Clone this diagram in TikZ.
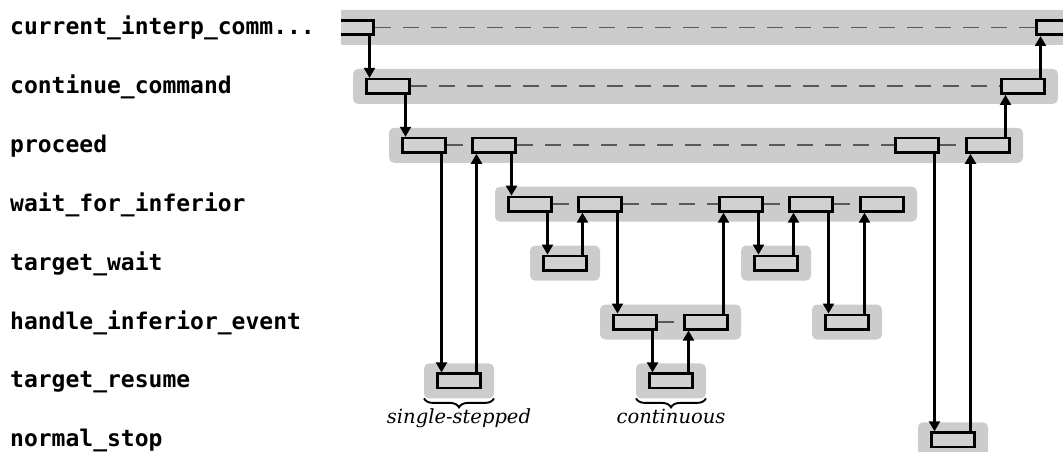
\documentclass[tikz,border=0pt]{standalone}
\usepackage{fontspec}
\setmonofont{DejaVu Sans Mono}
\newfontfamily\notefont{DejaVu Serif}
\usetikzlibrary{arrows.meta,fit,backgrounds,decorations.pathreplacing,positioning}

\tikzset{
	fn/.style={anchor=base west, inner sep=0pt, font=\ttfamily\bfseries\fontsize{23}{23}\selectfont},
	callbox/.style={draw, fill=black!18, line width=2.6pt, minimum width=43.4pt, minimum height=14.4pt, inner sep=0pt, anchor=west},
	stack/.style={fill=black!20, rounded corners=5pt, inner xsep=12pt, inner ysep=9pt, outer sep=0pt},
	timeline/.style={draw=black!65, line width=1.8pt, dash pattern=on 15.5pt off 12.5pt},
	callarrow/.style={line width=2.2pt, -{Triangle[width=11pt,length=10pt]}},
	groupbrace/.style={decorate, decoration={brace, mirror, amplitude=9pt}, line width=1.9pt},
	note/.style={anchor=base, inner sep=0pt, font=\notefont\itshape\fontsize{19.5}{19.5}\selectfont}
}

\begin{document}
\begin{tikzpicture}[x=1pt, y=-1pt]
	\useasboundingbox (0,0) rectangle (1063,452);
	
	% function names
	\node[fn] (lcic) at (10,35) {current\_interp\_comm...};
	\node[fn] (lcc) at (10,93.8) {continue\_command};
	\node[fn] (lpr) at (10,152.6) {proceed};
	\node[fn] (lwfi) at (10,211.4) {wait\_for\_inferior};
	\node[fn] (ltw) at (10,270.2) {target\_wait};
	\node[fn] (lhie) at (10,329) {handle\_inferior\_event};
	\node[fn] (ltr) at (10,387.8) {target\_resume};
	\node[fn] (lns) at (10,446.6) {normal\_stop};
	
	\begin{scope}
	\clip (341,0) rectangle (1063,452);
	
	% calls
	\node[callbox] (cic1) at (329,27.5) {};
	\node[callbox] (cic2) at (1035,27.5) {};
	
	\node[callbox] (cc1) at (365,86.4) {};
	\node[callbox] (cc2) at (1000,86.4) {};
	
	\node[callbox] (pr1) at (401,145.3) {};
	\node[callbox] (pr2) at (471,145.3) {};
	\node[callbox] (pr3) at (894,145.3) {};
	\node[callbox] (pr4) at (965,145.3) {};
	
	\node[callbox] (wfi1) at (507,204.2) {};
	\node[callbox] (wfi2) at (577,204.2) {};
	\node[callbox] (wfi3) at (718,204.2) {};
	\node[callbox] (wfi4) at (788,204.2) {};
	\node[callbox] (wfi5) at (859,204.2) {};
	
	\node[callbox] (tw1) at (542,263.1) {};
	\node[callbox] (tw2) at (753,263.1) {};
	
	\node[callbox] (hie1) at (612,322) {};
	\node[callbox] (hie2) at (683,322) {};
	\node[callbox] (hie3) at (824,322) {};
	
	\node[callbox] (tr1) at (436,380.9) {};
	\node[callbox] (tr2) at (648,380.9) {};
	
	\node[callbox] (ns1) at (930,439.8) {};
	
	% grey bands behind the calls
	\begin{scope}[on background layer]
	\clip (341,0) rectangle (1063,452);
	\node[stack, fit=(cic1)(cic2)] (cicb) {};
	\node[stack, fit=(cc1)(cc2)] (ccb) {};
	\node[stack, fit=(pr1)(pr4)] (prb) {};
	\node[stack, fit=(wfi1)(wfi5)] (wfib) {};
	\node[stack, fit=(tw1)] (twb1) {};
	\node[stack, fit=(tw2)] (twb2) {};
	\node[stack, fit=(hie1)(hie2)] (hieb1) {};
	\node[stack, fit=(hie3)] (hieb2) {};
	\node[stack, fit=(tr1)] (trb1) {};
	\node[stack, fit=(tr2)] (trb2) {};
	\node[stack, fit=(ns1)] (nsb) {};
	\end{scope}
	
	% time between calls
	\draw[timeline] (cic1.east) -- (cic2.west);
	\draw[timeline] (cc1.east) -- (cc2.west);
	\draw[timeline] (pr1.east) -- (pr2.west) (pr2.east) -- (pr3.west) (pr3.east) -- (pr4.west);
	\draw[timeline] (wfi1.east) -- (wfi2.west) (wfi2.east) -- (wfi3.west) (wfi3.east) -- (wfi4.west) (wfi4.east) -- (wfi5.west);
	\draw[timeline] (hie1.east) -- (hie2.west);
	
	% calling down
	\draw[callarrow] ([xshift=-5.5pt]cic1.south east) -- ([xshift=-5.5pt]cic1.south east |- cc1.north);
	\draw[callarrow] ([xshift=-5.5pt]cc1.south east) -- ([xshift=-5.5pt]cc1.south east |- pr1.north);
	\draw[callarrow] ([xshift=-5.5pt]pr1.south east) -- ([xshift=-5.5pt]pr1.south east |- tr1.north);
	\draw[callarrow] ([xshift=-5.5pt]pr2.south east) -- ([xshift=-5.5pt]pr2.south east |- wfi1.north);
	\draw[callarrow] ([xshift=-5.5pt]wfi1.south east) -- ([xshift=-5.5pt]wfi1.south east |- tw1.north);
	\draw[callarrow] ([xshift=-5.5pt]wfi2.south east) -- ([xshift=-5.5pt]wfi2.south east |- hie1.north);
	\draw[callarrow] ([xshift=-5.5pt]hie1.south east) -- ([xshift=-5.5pt]hie1.south east |- tr2.north);
	\draw[callarrow] ([xshift=-5.5pt]wfi3.south east) -- ([xshift=-5.5pt]wfi3.south east |- tw2.north);
	\draw[callarrow] ([xshift=-5.5pt]wfi4.south east) -- ([xshift=-5.5pt]wfi4.south east |- hie3.north);
	\draw[callarrow] ([xshift=-5.5pt]pr3.south east) -- ([xshift=-5.5pt]pr3.south east |- ns1.north);
	
	% returning up
	\draw[callarrow] ([xshift=-5.5pt]tr1.north east) -- ([xshift=-5.5pt]tr1.north east |- pr2.south);
	\draw[callarrow] ([xshift=-5.5pt]tw1.north east) -- ([xshift=-5.5pt]tw1.north east |- wfi2.south);
	\draw[callarrow] ([xshift=-5.5pt]tr2.north east) -- ([xshift=-5.5pt]tr2.north east |- hie2.south);
	\draw[callarrow] ([xshift=-5.5pt]hie2.north east) -- ([xshift=-5.5pt]hie2.north east |- wfi3.south);
	\draw[callarrow] ([xshift=-5.5pt]tw2.north east) -- ([xshift=-5.5pt]tw2.north east |- wfi4.south);
	\draw[callarrow] ([xshift=-5.5pt]hie3.north east) -- ([xshift=-5.5pt]hie3.north east |- wfi5.south);
	\draw[callarrow] ([xshift=-5.5pt]ns1.north east) -- ([xshift=-5.5pt]ns1.north east |- pr4.south);
	\draw[callarrow] ([xshift=-5.5pt]pr4.north east) -- ([xshift=-5.5pt]pr4.north east |- cc2.south);
	\draw[callarrow] ([xshift=-5.5pt]cc2.north east) -- ([xshift=-5.5pt]cc2.north east |- cic2.south);
	\end{scope}
	
	% resume modes
	\draw[groupbrace] (trb1.south west) -- (trb1.south east);
	\draw[groupbrace] (trb2.south west) -- (trb2.south east);
	\node[note] (lss) at ([yshift=-25pt]trb1.south) {single-stepped};
	\node[note] (lcont) at ([yshift=-25pt]trb2.south) {continuous};
\end{tikzpicture}
\end{document}
